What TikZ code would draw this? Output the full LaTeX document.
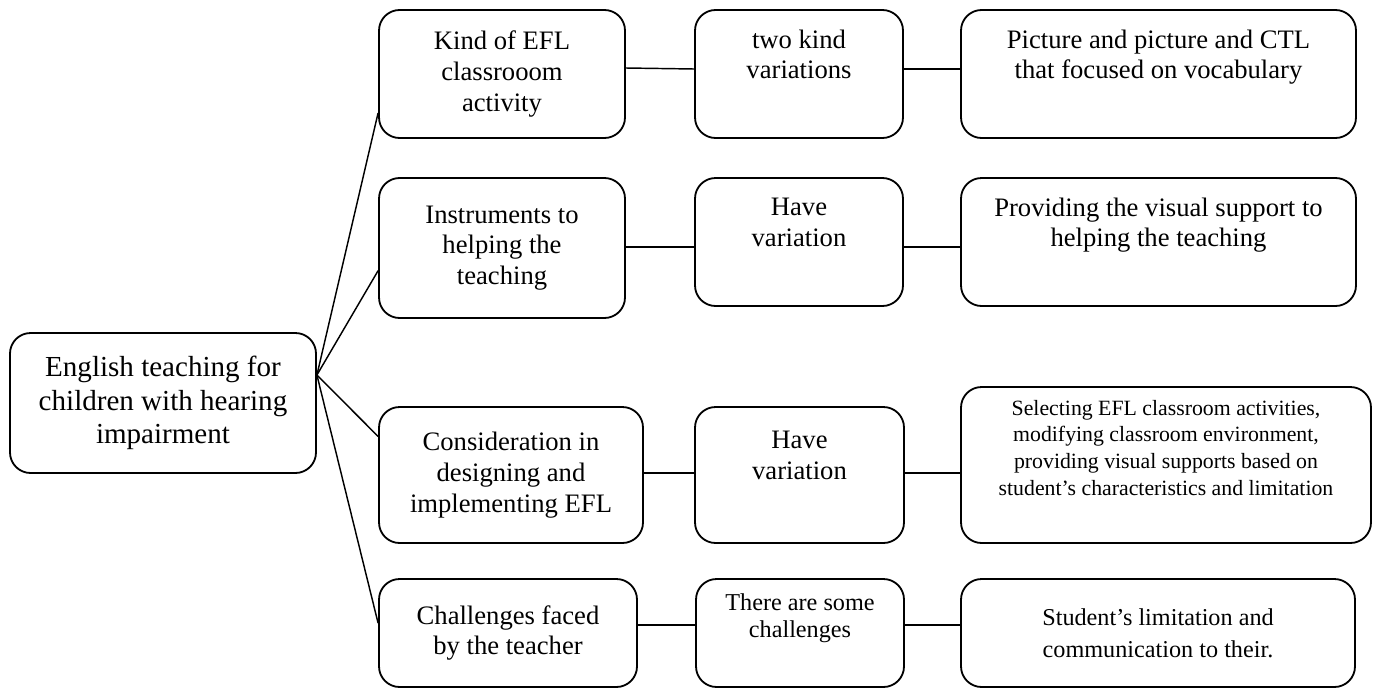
\documentclass[tikz,border=0pt]{standalone}
\usepackage{fontspec}
\setmainfont{Liberation Serif}
\usetikzlibrary{calc}

\newcommand{\pxu}{0.413pt}
\tikzset{
  box/.style={draw, rounded corners=8.5pt, line width=0.75pt, align=center, inner sep=0pt},
  dim/.style 2 args={minimum width=#1*\pxu, minimum height=#2*\pxu},
  link/.style={line width=0.6pt},
  fsbig/.style={font=\fontsize{12}{13.8}\selectfont},
  fsmid/.style={font=\fontsize{11}{12.65}\selectfont},
  fssmall/.style={font=\fontsize{10}{11}\selectfont},
  fstiny/.style={font=\fontsize{9}{11}\selectfont},
}

\begin{document}
\begin{tikzpicture}[x=\pxu, y=-\pxu]
        \useasboundingbox (0,0) rectangle (1378,689);

        \node[box, fsbig, dim={306}{140}] (root) at (163,403) {English teaching for\\children with hearing\\impairment};

        \node[box, fsmid, dim={246}{128}] (kind) at (502,74) {Kind of EFL\\classrooom\\activity};
        \node[box, fsmid, dim={246}{140}] (instr) at (502,248) {Instruments to\\helping the\\teaching};
        \node[box, fsmid, dim={264}{136}] (consid) at (511,475) {Consideration in\\designing and\\implementing EFL};
        \node[box, fsmid, dim={258}{108}] (chall) at (508,633) {Challenges faced\\by the teacher};

        \node[box, fsmid, dim={208}{128}] (var1) at (799,74) {two kind\\variations\\\strut};
        \node[box, fsmid, dim={208}{128}] (var2) at (799,242) {Have\\variation\\\strut};
        \node[box, fsmid, dim={209}{136}] (var3) at (799.5,475) {Have\\variation\\\strut};
        \node[box, fssmall, dim={208}{108}] (var4) at (800,633) {There are some\\challenges\\\strut};

        \node[box, fsmid, dim={395}{128}] (pic) at (1158.5,74) {Picture and picture and CTL\\that focused on vocabulary\\\strut};
        \node[box, fsmid, dim={395}{128}] (prov) at (1158.5,242) {Providing the visual support to\\helping the teaching\\\strut};
        \node[box, fstiny, dim={410}{156}] (sel) at (1166,465) {Selecting EFL classroom activities,\\modifying classroom environment,\\providing visual supports based on\\student’s characteristics and limitation\\\strut};
        \node[box, font=\fontsize{10}{13.1}\selectfont, dim={394}{108}] (stud) at (1158,633) {Student’s limitation and\\communication to their.};

        % fan out of the root box
        \coordinate (hub) at ($(root.east)+(0,-28)$);
        \draw[link] (hub) -- ($(kind.north west)!0.8!(kind.south west)$);
        \draw[link] (hub) -- ($(instr.north west)!0.66!(instr.south west)$);
        \draw[link] (hub) -- ($(consid.north west)!0.22!(consid.south west)$);
        \draw[link] (hub) -- ($(chall.north west)!0.41!(chall.south west)$);

        \draw[link] ($(kind.east)+(0,-6)$) -- ($(var1.west)+(0,-5)$);
        \draw[link] ($(instr.east)+(0,-1)$) coordinate (t2) -- (var2.west |- t2);
        \draw[link] ($(consid.east)+(0,-2)$) coordinate (t3) -- (var3.west |- t3);
        \draw[link] ($(chall.east)+(0,-8)$) coordinate (t4) -- (var4.west |- t4);

        \draw[link] ($(var1.east)+(0,-5)$) coordinate (u1) -- (pic.west |- u1);
        \draw[link] ($(var2.east)+(0,5)$) coordinate (u2) -- (prov.west |- u2);
        \draw[link] ($(var3.east)+(0,-2)$) coordinate (u3) -- (sel.west |- u3);
        \draw[link] ($(var4.east)+(0,-8)$) coordinate (u4) -- (stud.west |- u4);

\end{tikzpicture}
\end{document}
